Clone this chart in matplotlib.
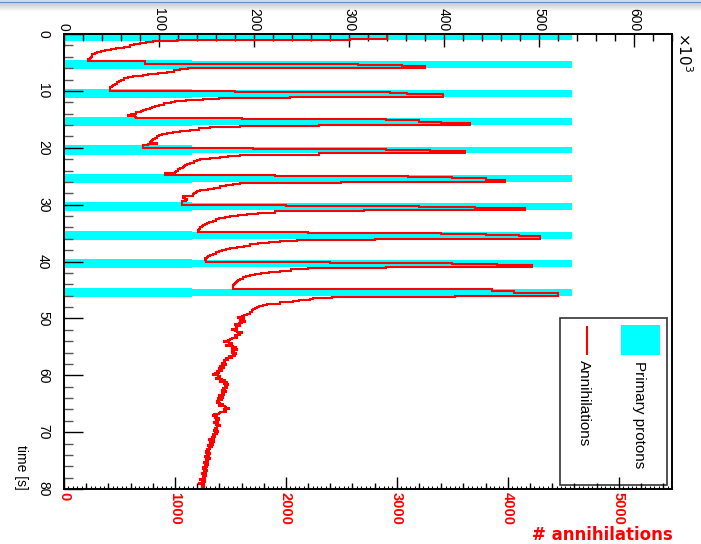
import numpy as np
import matplotlib.pyplot as plt
from matplotlib.ticker import MultipleLocator
from matplotlib.patches import Rectangle
from matplotlib.lines import Line2D

plt.rcParams['font.family'] = ['Liberation Sans', 'DejaVu Sans']

# ---------------- data -----------------
# 0.2 s time bins, 0 .. 80 s
bin_width = 0.2
t_max = 80.0

# annihilations per bin; each cycle list starts 0.4 s before its beam pulse
ann_cycle0 = [2910, 2910, 2910, 2910, 2577, 1018, 800, 740, 685, 630,
              595, 540, 470, 420, 370, 330, 300, 280, 255, 250,
              240, 235, 220]
ann_cycle1 = [215, 730, 730, 2650, 3050, 3250, 3250, 1117, 1050, 990,
              928, 850, 760, 712, 620, 577, 540, 515, 500, 480,
              477, 460, 445, 430, 414]
ann_cycle2 = [414, 414, 1540, 2940, 3090, 3415, 3415, 2040, 1400, 1250,
              1100, 1000, 960, 900, 860, 820, 790, 775, 740, 710,
              690, 650, 600, 580, 640]
ann_cycle3 = [650, 1600, 2900, 3200, 3400, 3660, 3660, 2300, 1586, 1315,
              1220, 1135, 1050, 980, 928, 880, 860, 840, 820, 800,
              790, 780, 775, 838, 760]
ann_cycle4 = [712, 712, 1700, 2900, 3300, 3610, 3610, 2300, 1586, 1480,
              1405, 1320, 1225, 1200, 1170, 1140, 1110, 1090, 1080, 1072,
              1050, 1030, 1010, 1000, 910]
ann_cycle5 = [910, 1900, 3100, 3500, 3800, 3975, 3975, 2500, 1586, 1520,
              1460, 1405, 1350, 1300, 1225, 1200, 1190, 1175, 1162, 1072,
              1072, 1090, 1108, 1100, 1063]
ann_cycle6 = [1063, 1063, 2000, 3200, 3700, 4155, 4155, 2700, 1900, 1750,
              1650, 1570, 1500, 1450, 1400, 1370, 1340, 1310, 1290, 1270,
              1250, 1240, 1230, 1220, 1210]
ann_cycle7 = [1210, 2200, 3400, 3800, 4100, 4290, 4290, 2800, 2100, 1950,
              1850, 1750, 1680, 1620, 1560, 1500, 1460, 1420, 1400, 1370,
              1340, 1320, 1300, 1290, 1270]
ann_cycle8 = [1270, 1280, 2400, 3500, 3900, 4215, 4215, 2900, 2200, 2050,
              1950, 1850, 1780, 1720, 1680, 1640, 1610, 1590, 1570, 1560,
              1550, 1540, 1530, 1525, 1520]
ann_cycle9 = [1520, 3860, 3860, 4060, 4060, 4450, 4450, 3520, 2414, 2243,
              2216, 2120, 2063, 1950, 1830, 1790, 1760, 1740, 1720, 1700,
              1690, 1680, 1676, 1650, 1620]
# after the last pulse (49.6 .. 80 s)
ann_tail = [1600, 1570, 1620, 1590, 1630, 1600, 1580, 1540, 1590, 1550,
            1560, 1510, 1540, 1560, 1600, 1570, 1590, 1540, 1560, 1510,
            1500, 1480, 1440, 1490, 1510, 1460, 1520, 1550, 1510, 1560,
            1530, 1510, 1550, 1520, 1540, 1490, 1510, 1460, 1480, 1440,
            1450, 1420, 1460, 1430, 1410, 1440, 1400, 1420, 1380, 1400,
            1360, 1340, 1390, 1410, 1370, 1420, 1450, 1410, 1470, 1440,
            1480, 1450, 1470, 1430, 1450, 1420, 1460, 1420, 1440, 1400,
            1410, 1430, 1390, 1420, 1400, 1380, 1410, 1430, 1400, 1450,
            1460, 1490, 1440, 1460, 1410, 1400, 1350, 1340, 1380, 1360,
            1400, 1370, 1390, 1350, 1390, 1370, 1410, 1380, 1360, 1380,
            1350, 1390, 1360, 1380, 1340, 1360, 1330, 1350, 1310, 1340,
            1350, 1320, 1340, 1300, 1330, 1310, 1320, 1290, 1310, 1280,
            1320, 1290, 1310, 1270, 1300, 1320, 1280, 1300, 1260, 1290,
            1300, 1270, 1290, 1250, 1280, 1290, 1260, 1280, 1240, 1270,
            1280, 1250, 1270, 1230, 1260, 1270, 1240, 1220, 1260, 1240,
            1260, 1240]

# primary protons per bin (x10^3), one list per pulse
pulse_start = [0.0, 4.6, 9.6, 14.6, 19.6, 24.6, 29.6, 34.6, 39.6, 44.6]
pulse_counts = [
    [535, 535, 535, 535, 535, 135],
    [135, 535, 535, 535, 535, 535, 535, 135],
    [135, 535, 535, 535, 535, 535, 535, 135],
    [135, 535, 535, 535, 535, 535, 535, 135],
    [135, 535, 535, 535, 535, 535, 535, 135],
    [135, 535, 535, 535, 535, 535, 535, 135],
    [135, 535, 535, 535, 535, 535, 535, 135],
    [135, 535, 535, 535, 535, 535, 535, 135],
    [135, 535, 535, 535, 535, 535, 535, 135],
    [135, 535, 535, 535, 535, 535, 535, 135],
]

time_ticks = [0, 10, 20, 30, 40, 50, 60, 70, 80]
ann_ticks = [0, 1000, 2000, 3000, 4000, 5000]
proton_ticks = [0, 100, 200, 300, 400, 500, 600]

# ---------------- histograms -----------------
n_bins = int(round(t_max / bin_width))
edges = np.linspace(0, t_max, n_bins + 1)
annihilations = np.array(ann_cycle0 + ann_cycle1 + ann_cycle2 + ann_cycle3 + ann_cycle4
                         + ann_cycle5 + ann_cycle6 + ann_cycle7 + ann_cycle8 + ann_cycle9
                         + ann_tail, dtype=float)
protons = np.zeros(n_bins)
for t0, counts in zip(pulse_start, pulse_counts):
    i0 = int(round(t0 / bin_width))
    protons[i0:i0 + len(counts)] = counts

# ---------------- figure -----------------
W, H = 701, 544
fig = plt.figure(figsize=(W / 100, H / 100), dpi=100)


def px(x, y):
    return (x / W, 1 - y / H)


# window strip along the top edge, drawn underneath everything else
strip = fig.add_axes([0, 1 - 12 / H, 1, 12 / H], zorder=-5)
rows = [[0.80, 0.86, 0.94], [0.78, 0.85, 0.93], [0.42, 0.55, 0.78]]
for g in np.linspace(0.80, 1.0, 9):
    rows.append([g, g, g])
strip.imshow(np.array(rows)[:, None, :], aspect='auto', interpolation='nearest')
strip.axis('off')

ax = fig.add_axes([64 / W, 55 / H, 608 / W, 455 / H])
ax2 = ax.twiny()
ax.set_zorder(ax2.get_zorder() + 1)
ax.patch.set_visible(False)

ax2.stairs(protons, edges, orientation='horizontal', baseline=0, fill=True,
           color='#00ffff', linewidth=0)
ax.stairs(annihilations, edges, orientation='horizontal', baseline=None,
          color='#ff0000', linewidth=1.5)

ax.set_ylim(t_max, 0)
ax.set_xlim(0, 5480)
ax2.set_xlim(0, 640)

# time axis on the left
ax.set_yticks(time_ticks, [str(t) for t in time_ticks], rotation=-90, fontsize=10, va='center')
ax.yaxis.set_minor_locator(MultipleLocator(2))
ax.tick_params(axis='y', which='both', direction='in', left=True, right=False, width=1.0)
ax.tick_params(axis='y', which='major', length=13.5, pad=10)
ax.tick_params(axis='y', which='minor', length=6.5, color='#555555')

# annihilations along the bottom
ax.set_xticks(ann_ticks, [str(v) for v in ann_ticks], rotation=-90, fontsize=10.5,
              fontweight='bold', color='red')
ax.xaxis.set_minor_locator(MultipleLocator(200))
ax.tick_params(axis='x', which='both', direction='in', bottom=True, top=False,
               labeltop=False, width=1.0)
ax.tick_params(axis='x', which='major', length=9, pad=2.5)
ax.tick_params(axis='x', which='minor', length=4.5)
sec = ax.secondary_xaxis('bottom')
sec.set_xticks(np.arange(0, 5481, 40))
sec.tick_params(direction='in', length=2.2, width=0.8, labelbottom=False)
sec.spines['bottom'].set_visible(False)

# primary protons along the top
ax2.set_xticks(proton_ticks, [str(v) for v in proton_ticks], rotation=-90, fontsize=10)
ax2.xaxis.set_minor_locator(MultipleLocator(20))
ax2.tick_params(axis='x', which='both', direction='in', top=True, bottom=False, width=1.0)
ax2.tick_params(axis='x', which='major', length=9.4, pad=2)
ax2.tick_params(axis='x', which='minor', length=5)

for s in ax2.spines.values():
    s.set_visible(False)
for s in ax.spines.values():
    s.set_linewidth(1.4)
    s.set_color('black')

# axis titles
fig.text(*px(21, 490), 'time [s]', rotation=-90, ha='center', va='bottom', fontsize=10)
fig.text(*px(675, 32), r'$\times10^{3}$', rotation=-90, ha='left', va='top', fontsize=11)
fig.text(*px(673, 544), '# annihilations', ha='right', va='bottom', color='red',
         fontsize=12, fontweight='bold', family='DejaVu Sans')

# legend
fig.add_artist(Rectangle(px(560, 485), 107 / W, 167 / H, transform=fig.transFigure,
                         facecolor='white', edgecolor='#333333', linewidth=1.2))
fig.add_artist(Rectangle(px(621, 355), 39 / W, 30 / H, transform=fig.transFigure,
                         facecolor='#00ffff', edgecolor='none'))
fig.add_artist(Line2D([587 / W, 587 / W], [1 - 327 / H, 1 - 354 / H],
                      transform=fig.transFigure, color='red', linewidth=1.5))
fig.text(*px(639, 361), 'Primary protons', rotation=-90, ha='center', va='top', fontsize=11)
fig.text(*px(584, 360), 'Annihilations', rotation=-90, ha='center', va='top', fontsize=11)

fig.savefig('out.png', dpi=100)
